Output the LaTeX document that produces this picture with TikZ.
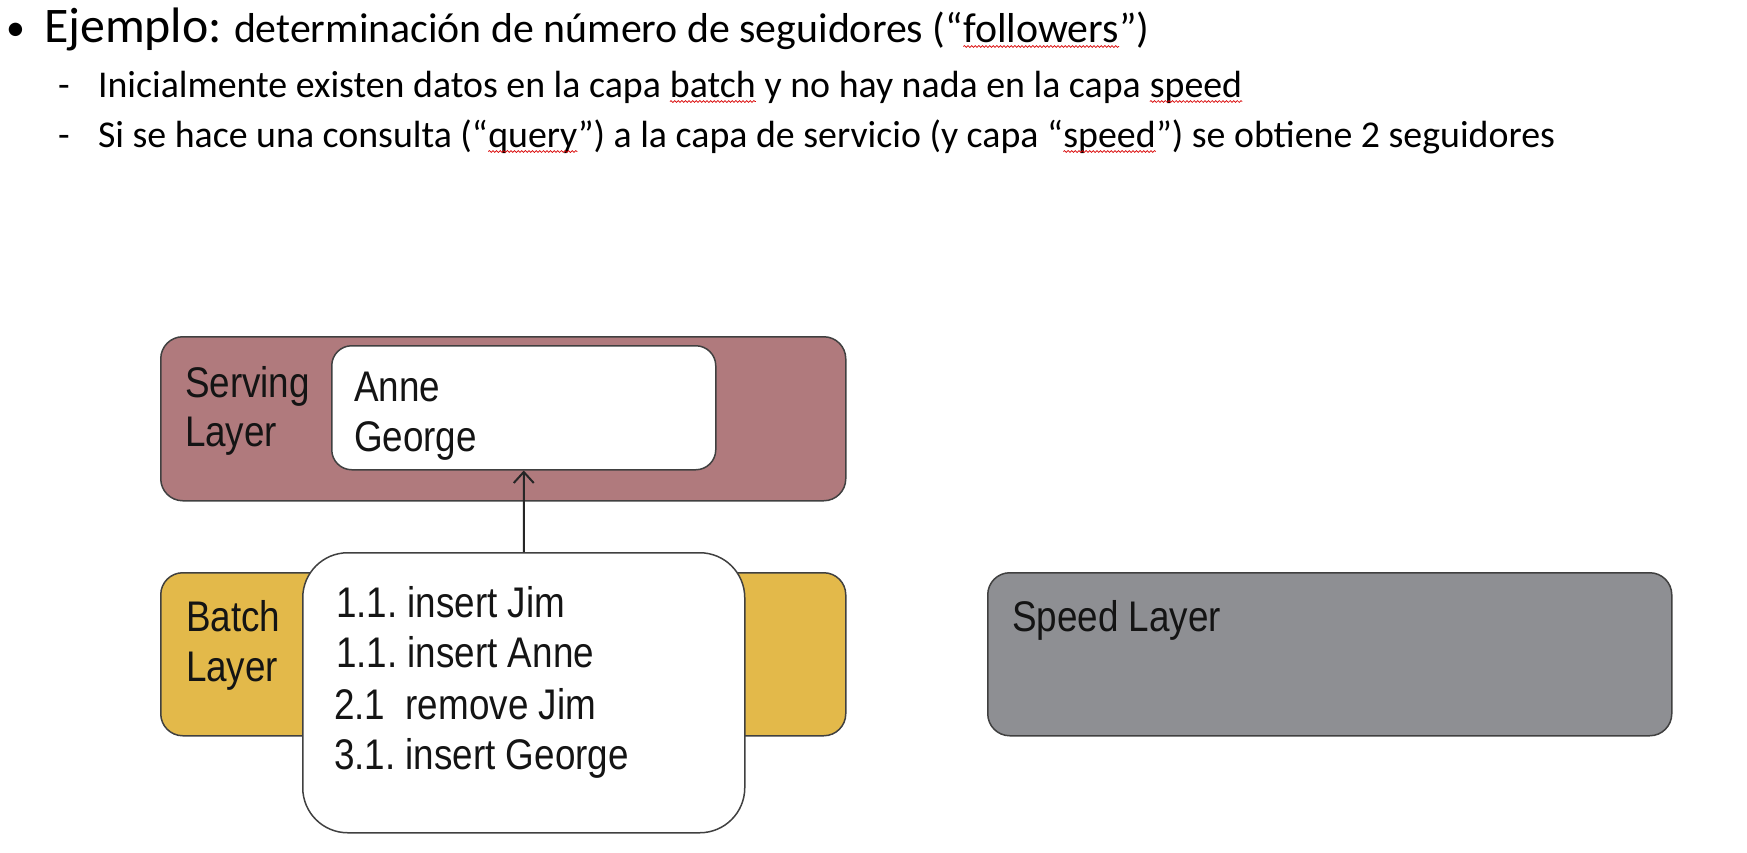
\documentclass[tikz,border=0pt]{standalone}
\usepackage{fontspec}
\setmainfont{Carlito}
\newfontfamily\diagfont[FakeStretch=0.86]{Liberation Sans}
\usetikzlibrary{arrows.meta,decorations.pathmorphing}
\frenchspacing

% wavy red underline, as left by a spell checker
\newcommand\spellmark[1]{\tikz[baseline=(wd.base)]{\node[inner sep=0pt,outer sep=0pt](wd){#1};\draw[red!85!black,line width=0.7bp,decorate,decoration={snake,amplitude=0.9bp,segment length=3.6bp}]([yshift=-4.5bp]wd.base west)--([yshift=-4.5bp]wd.base east);}}

\definecolor{servingfill}{RGB}{176,122,125}
\definecolor{batchfill}{RGB}{227,185,74}
\definecolor{speedfill}{RGB}{142,143,147}
\definecolor{edge}{RGB}{64,64,64}

\tikzset{
  txt/.style={inner sep=0pt,outer sep=0pt,anchor=base west},
  head/.style={txt,font=\fontsize{50}{60}\selectfont},
  sub/.style={txt,font=\fontsize{42}{50}\selectfont},
  body/.style={txt,font=\fontsize{38}{45}\selectfont},
  dtext/.style={txt,font=\diagfont\fontsize{43}{50}\selectfont,text=black!92},
  layerbox/.style={draw=edge,line width=1.5bp,rounded corners=22bp,anchor=north west,inner sep=0pt},
  whitebox/.style={draw=edge,line width=1.5bp,fill=white,anchor=north west,inner sep=0pt},
}

\begin{document}
\begin{tikzpicture}[x=1bp,y=1bp]
\useasboundingbox (0,0) rectangle (1747,-853);
\fill[white] (0,0) rectangle (1747,-853);

% heading and bullet points
\node[txt,font=\fontsize{38}{45}\selectfont] (bul) at (6,-40) {•};
\node[head] (ej) at (44,-42) {Ejemplo:};
\node[sub] (t1) at (234,-42) {determinación de número de seguidores (“\spellmark{followers}”)};
\node[body] (d2) at (58,-97) {-};
\node[body] (t2) at (98,-97) {Inicialmente existen datos en la capa \spellmark{batch} y no hay nada en la capa \spellmark{speed}};
\node[body] (d3) at (58,-147) {-};
\node[body] (t3) at (98,-147) {Si se hace una consulta (“\spellmark{query}”) a la capa de servicio (y capa “\spellmark{speed}”) se obtiene 2 seguidores};

% serving layer
\node[layerbox,fill=servingfill,minimum width=685bp,minimum height=164bp] (serving) at (160,-336) {};
\node[whitebox,rounded corners=20bp,minimum width=384bp,minimum height=124bp] (sview) at (331,-345) {};
\node[dtext] (sl1) at (185,-397) {Serving};
\node[dtext] (sl2) at (185,-446) {Layer};
\node[dtext] (sv1) at (354,-401) {Anne};
\node[dtext] (sv2) at (354,-451) {George};

% batch layer
\node[layerbox,fill=batchfill,minimum width=685bp,minimum height=163bp] (batch) at (160,-572) {};
\node[dtext] (bl1) at (186,-631) {Batch};
\node[dtext] (bl2) at (186,-681) {Layer};
\node[whitebox,rounded corners=45bp,minimum width=442bp,minimum height=280bp] (blog) at (302,-552) {};
\node[dtext] (bg1) at (336,-617) {1.1. insert Jim};
\node[dtext] (bg2) at (336,-667) {1.1. insert Anne};
\node[dtext] (bg3) at (334,-719) {2.1\ \ remove Jim};
\node[dtext] (bg4) at (334,-769) {3.1. insert George};

% speed layer
\node[layerbox,fill=speedfill,minimum width=684bp,minimum height=163bp] (speed) at (987,-572) {};
\node[dtext] (spl) at (1012,-631) {Speed Layer};

% batch view loaded into the serving layer
\draw[line width=2bp,draw=black!85,-{Straight Barb[length=11bp,width=20bp,line width=2bp]}] (blog.north) -- (sview.south);
\end{tikzpicture}
\end{document}
